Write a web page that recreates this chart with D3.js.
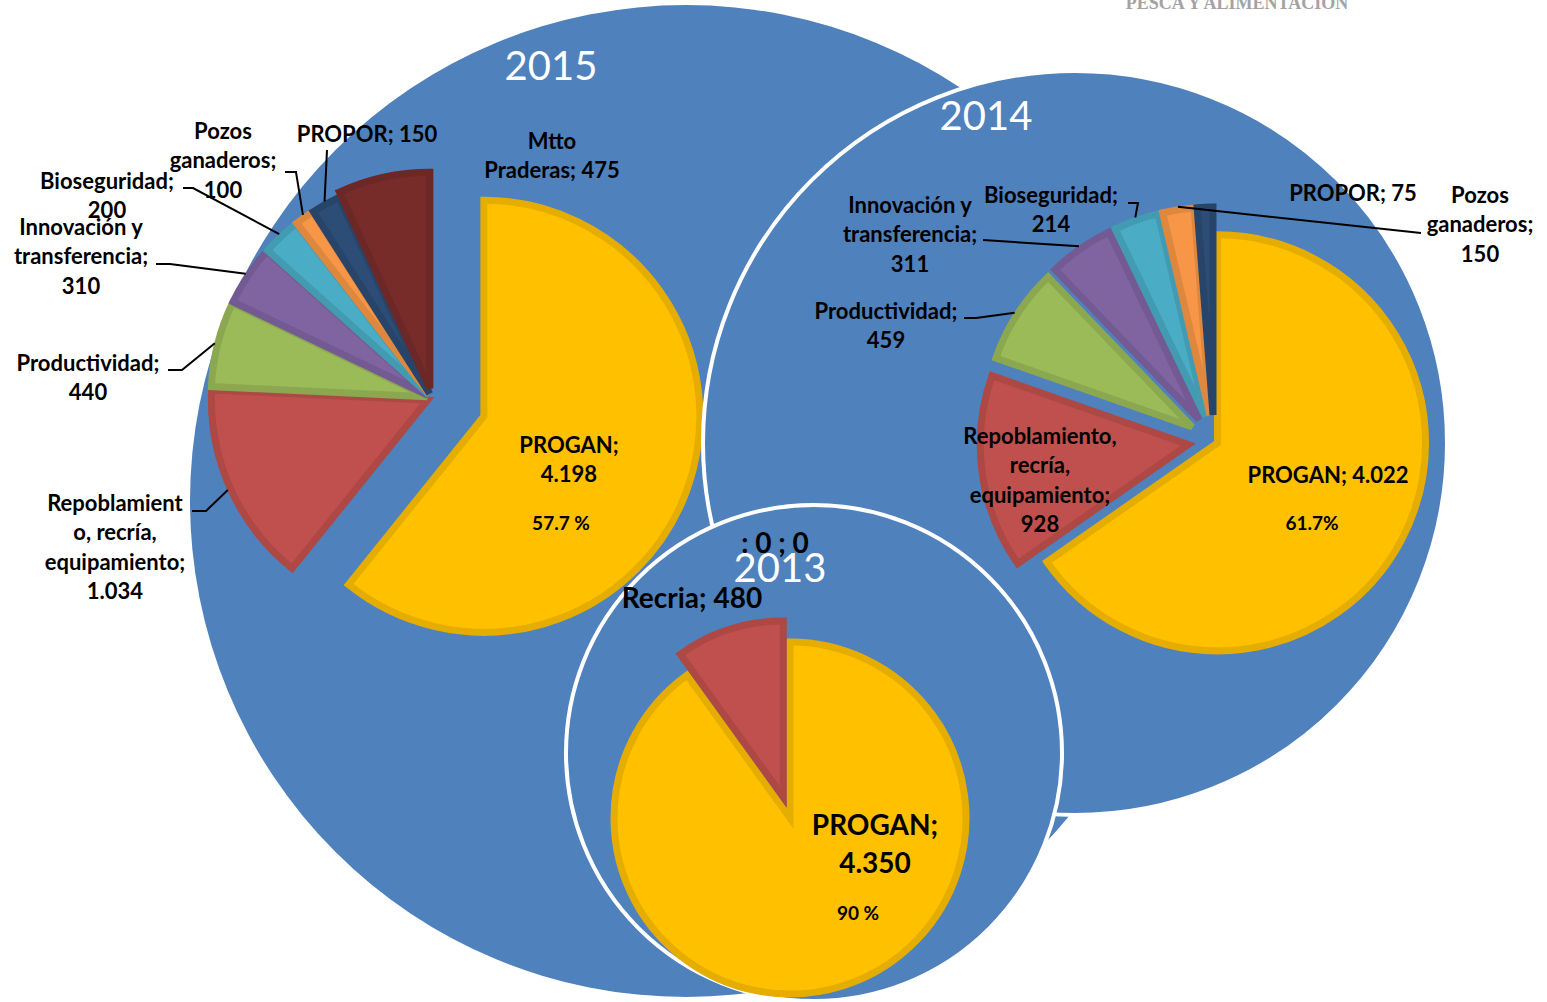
<!DOCTYPE html>
<html>
<head>
<meta charset="utf-8">
<script src="https://cdn.jsdelivr.net/npm/d3@7"></script>
<style>
  body { margin: 0; background: #fff; }
  text { font-family: Lato, 'Open Sans', sans-serif; }
</style>
</head>
<body>
<svg id="chart" width="1547" height="1002"></svg>
<script>
// ---- data ----
const categories2015 = ['PROGAN', 'Repoblamiento, recría, equipamiento', 'Productividad', 'Innovación y transferencia', 'Bioseguridad', 'Pozos ganaderos', 'PROPOR', 'Mtto Praderas'];
const values2015 = [4198, 1034, 440, 310, 200, 100, 150, 475];

const categories2014 = ['PROGAN', 'Repoblamiento, recría, equipamiento', 'Productividad', 'Innovación y transferencia', 'Bioseguridad', 'Pozos ganaderos', 'PROPOR'];
const values2014 = [4022, 928, 459, 311, 214, 150, 75];

const categories2013 = ['PROGAN', 'Recria', ''];
const values2013 = [4350, 480, 0];

const yearNames = ['2015', '2014', '2013'];
const percentLabels = ['57.7 %', '61.7%', '90 %'];

// ---- colours ----
const color = d3.scaleOrdinal()
    .domain(['PROGAN', 'Repoblamiento, recría, equipamiento', 'Recria', 'Productividad', 'Innovación y transferencia', 'Bioseguridad', 'Pozos ganaderos', 'PROPOR', 'Mtto Praderas', ''])
    .range(['#ffc000', '#c0504d', '#c0504d', '#9bbb59', '#8064a2', '#4bacc6', '#f79646', '#2c4d75', '#772c2a', '#ffc000']);
const border = c => d3.color(c).darker(0.3).formatHex();

const fmt = d3.formatLocale({ decimal: ',', thousands: '.', grouping: [3], currency: ['', ''] }).format(',d');

const svg = d3.select('#chart');

// logo text in the corner, cut off by the top edge
svg.append('text')
    .attr('x', 1237).attr('y', 9)
    .attr('text-anchor', 'middle')
    .style('font-family', "'Liberation Serif', serif")
    .attr('font-size', 18)
    .attr('font-weight', 700)
    .attr('fill', '#a3a3a3')
    .text('PESCA Y ALIMENTACION');

// ---- layout per year ----
const years = [
    {
        cats: categories2015, vals: values2015,
        bg: { cx: 686, cy: 501, r: 496 }, stroke: 0,
        title: [551, 66],
        pie: { cx: 432, cy: 398, r: 216 },
        explode: [55, 5, 5, 5, 5, 5, 5, 10],
        size: 22, lh: 29.5,
        pct: { x: 561, y: 523, size: 19 },
        labels: [
            { i: 0, x: 569, y: 445, tpl: 'PROGAN;|{v}' },
            { i: 1, x: 115, y: 503, tpl: 'Repoblamient|o, recría,|equipamiento;|{v}', lead: [[192, 511], [206, 511]] },
            { i: 2, x: 88, y: 363, tpl: 'Productividad;|{v}', lead: [[168, 370], [182, 370]] },
            { i: 3, x: 81, y: 227, tpl: 'Innovación y|transferencia;|{v}', lead: [[156, 264], [170, 264]] },
            { i: 4, x: 107, y: 181, tpl: 'Bioseguridad;|{v}', lead: [[183, 188], [193, 188]] },
            { i: 5, x: 223, y: 131, tpl: 'Pozos|ganaderos;|{v}', lead: [[285, 172], [296, 172]] },
            { i: 6, x: 367, y: 134, tpl: 'PROPOR; {v}', lead: [[327, 150]] },
            { i: 7, x: 552, y: 141, tpl: 'Mtto|Praderas; {v}' }
        ]
    },
    {
        cats: categories2014, vals: values2014,
        bg: { cx: 1075, cy: 443, r: 372 }, stroke: 4,
        title: [986, 116],
        pie: { cx: 1214, cy: 441, r: 208 },
        explode: [4, 26, 26, 26, 26, 26, 26],
        size: 22, lh: 29.5,
        pct: { x: 1312, y: 523, size: 19 },
        labels: [
            { i: 0, x: 1328, y: 475, tpl: 'PROGAN; {v}' },
            { i: 1, x: 1040, y: 436, tpl: 'Repoblamiento,|recría,|equipamiento;|{v}' },
            { i: 2, x: 886, y: 311, tpl: 'Productividad;|{v}', lead: [[964, 318], [976, 318]] },
            { i: 3, x: 910, y: 205, tpl: 'Innovación y|transferencia;|{v}', lead: [[983, 240]] },
            { i: 4, x: 1051, y: 195, tpl: 'Bioseguridad;|{v}', lead: [[1128, 203], [1138, 203]] },
            { i: 5, x: 1480, y: 195, tpl: 'Pozos|ganaderos;|{v}', lead: [[1421, 233]] },
            { i: 6, x: 1353, y: 193, tpl: 'PROPOR; {v}' }
        ]
    },
    {
        cats: categories2013, vals: values2013,
        bg: { cx: 814, cy: 753, r: 248 }, stroke: 4,
        title: [780, 568],
        pie: { cx: 790, cy: 818, r: 176 },
        explode: [0, 22, 0],
        size: 28, lh: 38,
        pct: { x: 858, y: 913, size: 19 },
        labels: [
            { i: 0, x: 875, y: 825, tpl: 'PROGAN;|{v}' },
            { i: 1, x: 692, y: 598, tpl: 'Recria; {v}' },
            { i: 2, x: 775, y: 543, tpl: ': {v} ; {v}' }
        ]
    }
];

const pie = d3.pie().sort(null).value(d => d.value);

years.forEach((yr, k) => {
    const g = svg.append('g');
    const data = yr.cats.map((c, i) => ({ cat: c, value: yr.vals[i] }));
    const arcs = pie(data);
    const { cx, cy, r } = yr.pie;
    const arc = d3.arc().innerRadius(0).outerRadius(r);
    const mid = d => (d.startAngle + d.endAngle) / 2;

    g.append('circle')
        .attr('cx', yr.bg.cx).attr('cy', yr.bg.cy).attr('r', yr.bg.r)
        .attr('fill', '#4f81bd')
        .attr('stroke', yr.stroke ? '#fff' : 'none')
        .attr('stroke-width', yr.stroke);

    g.append('g')
        .attr('transform', `translate(${cx},${cy})`)
        .selectAll('path')
        .data(arcs.filter(d => d.value > 0))
        .join('path')
            .attr('transform', d => {
                const e = yr.explode[d.index];
                return `translate(${Math.sin(mid(d)) * e},${-Math.cos(mid(d)) * e})`;
            })
            .attr('d', arc)
            .attr('fill', d => color(d.data.cat))
            .attr('stroke', d => border(color(d.data.cat)))
            .attr('stroke-width', 7)
            .attr('stroke-linejoin', 'miter');

    // leader lines: from label to the outer edge of the slice
    const line = d3.line();
    yr.labels.filter(l => l.lead).forEach(l => {
        const d = arcs[l.i];
        const rr = r + yr.explode[l.i] + 3;
        const end = [cx + Math.sin(mid(d)) * rr, cy - Math.cos(mid(d)) * rr];
        g.append('path')
            .attr('d', line([...l.lead, end]))
            .attr('fill', 'none')
            .attr('stroke', '#000')
            .attr('stroke-width', 2);
    });

    // data labels
    yr.labels.forEach(l => {
        const lines = l.tpl.replace(/\{v\}/g, fmt(yr.vals[l.i])).split('|');
        g.append('text')
            .attr('text-anchor', 'middle')
            .attr('font-weight', 700)
            .attr('font-size', yr.size)
            .attr('fill', '#000')
            .selectAll('tspan')
            .data(lines)
            .join('tspan')
                .attr('x', l.x)
                .attr('y', (s, j) => l.y + j * yr.lh)
                .attr('dy', '0.36em')
                .text(s => s);
    });

    g.append('text')
        .attr('x', yr.pct.x).attr('y', yr.pct.y).attr('dy', '0.36em')
        .attr('text-anchor', 'middle')
        .attr('font-weight', 700)
        .attr('font-size', yr.pct.size)
        .text(percentLabels[k]);

    g.append('text')
        .attr('x', yr.title[0]).attr('y', yr.title[1]).attr('dy', '0.36em')
        .attr('text-anchor', 'middle')
        .attr('font-size', 40)
        .attr('fill', '#fff')
        .text(yearNames[k]);
});
</script>
</body>
</html>
